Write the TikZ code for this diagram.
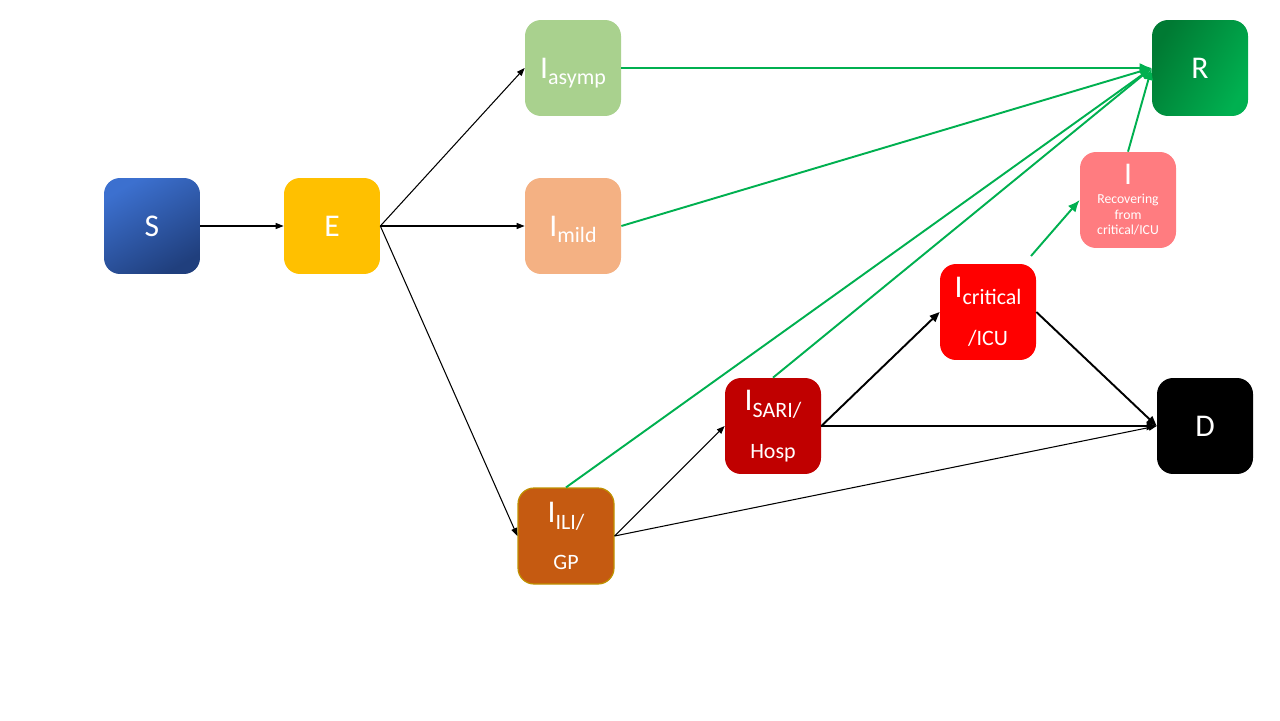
\documentclass[tikz,border=0pt]{standalone}
\usepackage{fontspec}
\setmainfont{Carlito}
\usetikzlibrary{arrows.meta}
\definecolor{sA}{HTML}{3C70CF}
\definecolor{sB}{HTML}{203F7D}
\definecolor{eC}{HTML}{FFC000}
\definecolor{asC}{HTML}{A9D18E}
\definecolor{miC}{HTML}{F4B183}
\definecolor{iliC}{HTML}{C55A11}
\definecolor{iliB}{HTML}{BF9000}
\definecolor{sariC}{HTML}{C00000}
\definecolor{critC}{HTML}{FF0000}
\definecolor{recC}{HTML}{FF7C80}
\definecolor{rA}{HTML}{007A33}
\definecolor{rB}{HTML}{00B050}
\definecolor{grn}{HTML}{00B050}
\newcommand\subx[1]{\smash{\raisebox{-0.45ex}{\fontsize{12.5}{14}\selectfont #1}}}
\begin{document}
\begin{tikzpicture}[x=0.02cm,y=-0.02cm,
  box/.style={rounded corners=0.32cm, minimum width=1.92cm, minimum height=1.92cm,
    text=white, font=\fontsize{18}{21}\selectfont, align=center, inner sep=0pt},
  thinarr/.style={-{Triangle[length=1.6mm,width=1.2mm]}, line width=0.6pt, black},
  thickarr/.style={-{Triangle[length=2mm,width=1.6mm]}, line width=1.1pt, black},
  grnarr/.style={-{Latex[length=2.4mm,width=2mm]}, line width=1.1pt, grn}]
\useasboundingbox (0,0) rectangle (1280,720);
\node[box, shading=axis, top color=sA, bottom color=sB, shading angle=30] (S) at (152,226) {S};
\node[box, fill=eC] (E) at (332,226) {E};
\node[box, fill=asC] (As) at (573,68) {I\subx{asymp}};
\node[box, fill=miC] (Mi) at (573,226) {I\subx{mild}};
\node[box, fill=iliC, draw=iliB, line width=0.7pt] (Ili) at (566,536) {I\subx{ILI/}\\[6pt]{\fontsize{12.5}{14}\selectfont GP}};
\node[box, fill=sariC] (Sari) at (773,426) {I\subx{SARI/}\\[6pt]{\fontsize{12.5}{14}\selectfont Hosp}};
\node[box, fill=critC] (Crit) at (988,312) {I\subx{critical}\\[6pt]{\fontsize{12.5}{14}\selectfont /ICU}};
\node[box, fill=recC, font=\fontsize{7.8}{9}\selectfont] (Rec) at (1128,200) {{\fontsize{18}{18}\selectfont I}\\[1.5pt]Recovering\\from\\critical/ICU};
\node[box, shading=axis, left color=rA, right color=rB, shading angle=60] (R) at (1200,68) {R};
\node[box, fill=black] (D) at (1205,426) {D};
\coordinate (critTop) at (1031,256);
% black arrows
\draw[thinarr] (S.east) -- (E.west);
\draw[thinarr] (E.east) -- (As.west);
\draw[thinarr] (E.east) -- (Mi.west);
\draw[thinarr] (E.east) -- (Ili.west);
\draw[thinarr] (Ili.east) -- (Sari.west);
\draw[thinarr] (Ili.east) -- (D.west);
\draw[thickarr] (Sari.east) -- (Crit.west);
\draw[thickarr] (Sari.east) -- (D.west);
\draw[thickarr] (Crit.east) -- (D.west);
% green arrows
\draw[grnarr] (As.east) -- (R.west);
\draw[grnarr] (Mi.east) -- (R.west);
\draw[grnarr] (Ili.north) -- (R.west);
\draw[grnarr] (Sari.north) -- (R.west);
\draw[grnarr] (Rec.north) -- (R.west);
\draw[grnarr] (critTop) -- (Rec.west);
\end{tikzpicture}
\end{document}
